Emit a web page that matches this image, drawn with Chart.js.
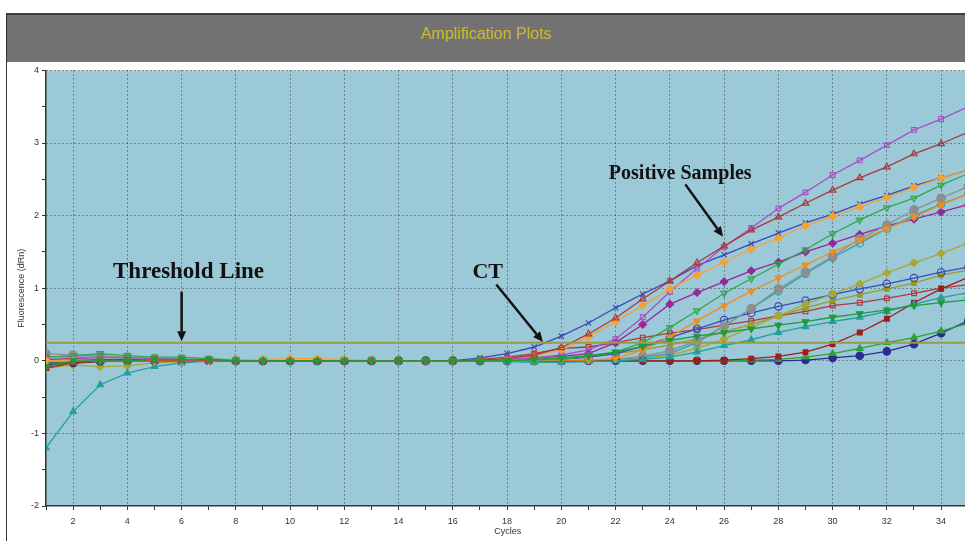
<!DOCTYPE html>
<html>
<head>
<meta charset="utf-8">
<script src="https://cdn.jsdelivr.net/npm/chart.js@4.4.1/dist/chart.umd.min.js"></script>
<style>
    body { margin: 0; background: #fff; width: 965px; height: 541px; overflow: hidden; position: relative; font-family: "Liberation Sans", Arial, sans-serif; }
    #frame { position: absolute; left: 6px; top: 13px; width: 1px; height: 528px; background: #333; }
    #titleBar { position: absolute; left: 7px; top: 13px; width: 958px; height: 47px; background: #727272; border-top: 2px solid #3c3c3c; color: #cbb92e; font-size: 16px; text-align: center; line-height: 37px; }
    #wrap { position: absolute; left: 0; top: 62px; width: 975px; height: 479px; }
</style>
</head>
<body>
<div id="frame"></div>
<div id="titleBar">Amplification Plots</div>
<div id="wrap"><canvas id="ampChart" width="975" height="479"></canvas></div>
<script>
document.addEventListener('DOMContentLoaded', function () {
    // cycle numbers 1..35
    const cycles = [1,2,3,4,5,6,7,8,9,10,11,12,13,14,15,16,17,18,19,20,21,22,23,24,25,26,27,28,29,30,31,32,33,34,35];
    const threshold = 0.25;

    // fluorescence (dRn) per cycle, one array per well
    const purpleSquare = [0.06,0.05,0.05,0.04,0.03,0.02,0.01,0.01,0,0,0,0,0,0,0,0,0.01,0.02,0.04,0.08,0.15,0.30,0.60,0.95,1.27,1.57,1.83,2.10,2.32,2.56,2.76,2.97,3.18,3.33,3.50];
    const redTriangle = [-0.10,-0.02,0,0,0,0,0,0,0,0,0,0,0,0,0,0,0.01,0.03,0.08,0.18,0.37,0.59,0.85,1.10,1.35,1.58,1.80,1.98,2.17,2.35,2.52,2.67,2.85,2.99,3.15];
    const blueCross = [-0.05,-0.03,0,0,0,0,0,0,0,0,0,0,0,0,0,0,0.04,0.10,0.19,0.34,0.52,0.73,0.92,1.10,1.31,1.46,1.61,1.76,1.90,2.02,2.16,2.28,2.41,2.52,2.63];
    const orangeDiamond = [0,0,0,0,0,0,0,0.01,0.02,0.03,0.03,0.02,0.01,0,0,0,0.01,0.03,0.07,0.15,0.33,0.54,0.76,0.99,1.18,1.36,1.54,1.69,1.86,1.99,2.12,2.25,2.39,2.52,2.63];
    const greenOpenDown = [0.05,0.07,0.10,0.07,0.05,0.05,0.03,0.01,0,0,0,0,0,0,0,0,0,0,0.01,0.02,0.06,0.12,0.25,0.46,0.69,0.93,1.13,1.33,1.53,1.75,1.94,2.11,2.24,2.42,2.58];
    const grayCircle = [0.10,0.08,0.07,0.05,0.03,0.02,0.01,0,0,0,0,0,0,0,0,0,0,0,0,0,0.01,0.02,0.06,0.14,0.27,0.48,0.72,0.99,1.22,1.44,1.68,1.87,2.08,2.24,2.40];
    const orangeDown = [0,0.01,0,0,0,0,0,0,0,0,0,0,0,0,0,0,0,0,0,0.01,0.01,0.03,0.15,0.33,0.55,0.76,0.96,1.14,1.32,1.50,1.66,1.82,1.98,2.15,2.30];
    const tealCircle = [0,0,0,0,0,0,0,0,0,0,0,0,0,0,0,0,0,0,0,0,0,0.02,0.05,0.10,0.25,0.48,0.72,0.96,1.20,1.42,1.62,1.82,2.00,2.16,2.30];
    const purpleDiamond = [0.02,0.03,0.02,0.02,0.01,0.01,0,0,0,0,0,0,0,0,0,0,0,0.02,0.04,0.06,0.10,0.25,0.50,0.78,0.94,1.09,1.24,1.36,1.50,1.62,1.74,1.86,1.95,2.05,2.15];
    const oliveDiamond = [-0.10,-0.06,-0.08,-0.07,-0.03,-0.01,0,0,0,0,0,0,0,0,0,0,0,0,0,0,0,0,0.03,0.08,0.17,0.30,0.46,0.62,0.78,0.92,1.06,1.21,1.35,1.48,1.62];
    const bluePentagon = [-0.03,-0.02,0,0,0,0,0,0,0,0,0,0,0,0,0,0,0,0,0.01,0.02,0.05,0.10,0.20,0.32,0.44,0.56,0.66,0.75,0.83,0.91,0.99,1.06,1.14,1.22,1.29];
    const oliveSquare = [0,0,0,0,0,0,0,0,0,0,0,0,0,0,0,0,0,0,0.01,0.03,0.05,0.10,0.15,0.22,0.30,0.40,0.50,0.62,0.73,0.83,0.91,0.99,1.07,1.18,1.25];
    const redOpenSquare = [-0.06,-0.02,0,0,0,0,0,0,0,0,0,0,0,0,0,0,0.02,0.05,0.10,0.17,0.19,0.25,0.32,0.38,0.43,0.49,0.55,0.62,0.68,0.76,0.80,0.86,0.93,1.00,1.05];
    const greenDown = [-0.08,0,0,0,0.02,0.02,0.02,0,0,0,0,0,0,0,0,0,0,0,0.02,0.04,0.07,0.12,0.20,0.28,0.34,0.39,0.44,0.49,0.54,0.60,0.65,0.70,0.76,0.80,0.84];
    const tealTriangle = [-1.20,-0.70,-0.33,-0.17,-0.08,-0.03,0,0,0,0,0,0,0,0,0,0,0,-0.01,-0.02,-0.02,-0.01,0,0.02,0.05,0.12,0.21,0.29,0.39,0.47,0.54,0.60,0.68,0.78,0.87,0.94];
    const darkRedSquare = [-0.10,-0.03,0,0,0,0,0,0,0,0,0,0,0,0,0,0,0,0,0,0,0,0,0,0,0,0.01,0.03,0.06,0.12,0.23,0.39,0.58,0.80,0.99,1.15];
    const greenUp = [-0.04,-0.02,0,0,0,0,0,0,0,0,0,0,0,0,0,0,0,0,0,0,0,0,0,0,0,0,0.01,0.02,0.05,0.10,0.17,0.25,0.32,0.41,0.52];
    const navyCircle = [-0.05,-0.03,-0.01,0,0,0,0,0,0,0,0,0,0,0,0,0,0,0,0,0,0,0,0,0,0,0,0,0,0.01,0.04,0.07,0.13,0.23,0.38,0.55];

    // look of each well: [values, colour, marker, filled, rotation, draw order]
    const wells = [
        [purpleSquare, '#a850c8', 'rect', false, 0, 2],
        [redTriangle, '#a83a3c', 'triangle', false, 0, 1],
        [blueCross, '#3a48b8', 'crossRot', false, 0, 2],
        [orangeDiamond, '#f4a234', 'rectRot', true, 0, 1],
        [greenOpenDown, '#2fa84a', 'triangle', false, 180, 1],
        [grayCircle, '#8e8e8e', 'circle', true, 0, 2],
        [orangeDown, '#f28c1e', 'triangle', true, 180, 1],
        [tealCircle, '#2aa4a8', 'circle', false, 0, 2],
        [purpleDiamond, '#982898', 'rectRot', true, 0, 2],
        [oliveDiamond, '#a8a832', 'rectRot', true, 0, 2],
        [bluePentagon, '#3c4cb4', 'circle', false, 0, 2],
        [oliveSquare, '#9a9a26', 'rect', true, 0, 2],
        [redOpenSquare, '#b03838', 'rect', false, 0, 2],
        [greenDown, '#1e9a3c', 'triangle', true, 180, 0],
        [tealTriangle, '#22a0a0', 'triangle', true, 0, 1],
        [darkRedSquare, '#a01c1c', 'rect', true, 0, 1],
        [greenUp, '#30a034', 'triangle', true, 0, 1],
        [navyCircle, '#2c2c90', 'circle', true, 0, 1]
    ];

    // annotations in data units (cycle, dRn)
    const notes = [
        { text: 'Threshold Line', x: 3.47, y: 1.14, size: 23 },
        { text: 'CT', x: 16.72, y: 1.14, size: 22 },
        { text: 'Positive Samples', x: 21.75, y: 2.5, size: 20 }
    ];
    const arrows = [
        [6.0, 0.95, 6.0, 0.27],
        [17.6, 1.05, 19.32, 0.26],
        [24.57, 2.43, 25.96, 1.71]
    ];

    const datasets = [{
        label: 'Threshold',
        data: [{ x: 1, y: threshold }, { x: 36, y: threshold }],
        borderColor: '#9c9a48',
        borderWidth: 2,
        pointRadius: 0,
        order: -1
    }];
    wells.forEach(function (w, i) {
        datasets.push({
            label: 'Well ' + (i + 1),
            data: w[0].map(function (v, j) { return { x: cycles[j], y: v }; }),
            borderColor: w[1],
            backgroundColor: w[1],
            borderWidth: 1.3,
            pointStyle: w[2],
            pointRotation: w[4],
            pointRadius: w[0] === grayCircle ? 4.2 : (w[2] === 'rect' ? 3.3 : 3.7),
            pointBackgroundColor: w[3] ? w[1] : 'rgba(0,0,0,0)',
            pointBorderColor: w[1],
            pointBorderWidth: 1.2,
            order: w[5]
        });
    });

    const plotBg = {
        id: 'plotBg',
        beforeDraw(chart) {
            const { ctx, chartArea: a } = chart;
            ctx.save();
            ctx.fillStyle = '#9cc9d7';
            ctx.fillRect(a.left, a.top, a.right - a.left, a.bottom - a.top);
            ctx.restore();
        }
    };

    const callouts = {
        id: 'callouts',
        afterDatasetsDraw(chart) {
            const { ctx, scales } = chart;
            const xs = scales.x, ys = scales.y;
            ctx.save();
            ctx.fillStyle = '#111';
            ctx.strokeStyle = '#111';
            notes.forEach(function (n) {
                ctx.font = 'bold ' + n.size + 'px "Liberation Serif", "Times New Roman", serif';
                ctx.textBaseline = 'alphabetic';
                ctx.fillText(n.text, xs.getPixelForValue(n.x), ys.getPixelForValue(n.y));
            });
            arrows.forEach(function (a) {
                const x1 = xs.getPixelForValue(a[0]), y1 = ys.getPixelForValue(a[1]);
                const x2 = xs.getPixelForValue(a[2]), y2 = ys.getPixelForValue(a[3]);
                const ang = Math.atan2(y2 - y1, x2 - x1);
                const hl = 10, hw = 4.5;
                const bx = x2 - hl * Math.cos(ang), by = y2 - hl * Math.sin(ang);
                ctx.lineWidth = 2.5;
                ctx.beginPath();
                ctx.moveTo(x1, y1);
                ctx.lineTo(bx, by);
                ctx.stroke();
                ctx.beginPath();
                ctx.moveTo(x2, y2);
                ctx.lineTo(bx - hw * Math.sin(ang), by + hw * Math.cos(ang));
                ctx.lineTo(bx + hw * Math.sin(ang), by - hw * Math.cos(ang));
                ctx.closePath();
                ctx.fill();
            });
            ctx.restore();
        }
    };

    const tickFont = { family: '"Liberation Sans", Arial, sans-serif', size: 9 };
    // dotted grid lines, solid axis lines
    const gridDash = function (c) { return c.type === 'tick' ? [1, 3] : []; };

    new Chart(document.getElementById('ampChart').getContext('2d'), {
        type: 'line',
        data: { datasets: datasets },
        plugins: [plotBg, callouts],
        options: {
            responsive: false,
            animation: false,
            devicePixelRatio: 1,
            layout: { padding: { top: 8, left: 0, right: 0, bottom: 0 } },
            elements: { line: { tension: 0 } },
            plugins: { legend: { display: false }, tooltip: { enabled: false } },
            scales: {
                x: {
                    type: 'linear',
                    min: 1,
                    max: 35.05,
                    afterFit(scale) { scale.height = 35; },
                    border: { display: true, color: '#333', width: 1.5, dash: gridDash },
                    grid: {
                        color: function (c) { return c.tick && c.tick.value % 2 === 0 ? '#3c3c3c' : 'rgba(0,0,0,0)'; },
                        lineWidth: 1,
                        tickLength: 4,
                        tickColor: '#333',
                        tickBorderDash: []
                    },
                    ticks: {
                        stepSize: 1,
                        autoSkip: false,
                        maxRotation: 0,
                        includeBounds: false,
                        padding: 6,
                        color: '#333',
                        font: tickFont,
                        callback: function (v) { return v % 2 === 0 ? v : ''; }
                    },
                    title: { display: true, text: 'Cycles', color: '#333', font: tickFont, padding: { top: 0, bottom: 3.6 } }
                },
                y: {
                    min: -2,
                    max: 4,
                    afterFit(scale) { scale.width = 46; },
                    border: { display: true, color: '#333', width: 1.5, dash: gridDash },
                    grid: {
                        color: function (c) { return c.tick && Number.isInteger(c.tick.value) && c.tick.value > -2 ? '#3c3c3c' : 'rgba(0,0,0,0)'; },
                        lineWidth: 1,
                        tickLength: 4,
                        tickColor: '#333',
                        tickBorderDash: []
                    },
                    ticks: {
                        stepSize: 0.5,
                        autoSkip: false,
                        padding: 3,
                        color: '#333',
                        font: tickFont,
                        callback: function (v) { return Number.isInteger(v) ? v : ''; }
                    },
                    title: { display: true, text: 'Fluorescence (dRn)', color: '#333', font: tickFont, padding: { top: 16.6, bottom: 0 } }
                }
            }
        }
    });
});
</script>
</body>
</html>
